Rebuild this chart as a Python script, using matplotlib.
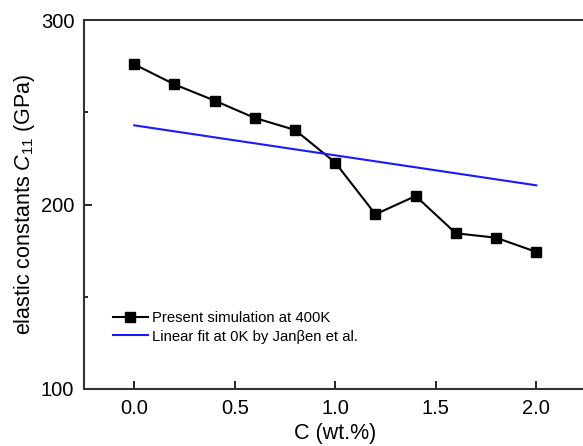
import numpy as np
import matplotlib.pyplot as plt
from matplotlib.ticker import MultipleLocator

plt.rcParams['font.family'] = ['Liberation Sans', 'DejaVu Sans']
plt.rcParams['mathtext.fontset'] = 'custom'
plt.rcParams['mathtext.it'] = 'Liberation Sans:italic'
plt.rcParams['mathtext.rm'] = 'Liberation Sans'

# C11 from the 400K simulation
conc = [0.0, 0.2, 0.4, 0.6, 0.8, 1.0, 1.2, 1.4, 1.6, 1.8, 2.0]
c11_sim = [276.0, 265.1, 256.3, 246.9, 240.4, 222.7, 194.7, 204.6, 184.4, 182.0, 174.3]

# linear fit at 0K (Janssen et al.), end points
fit_conc = [0.0, 2.0]
fit_c11 = [242.9, 210.4]

fig = plt.figure(figsize=(5.83, 4.46), dpi=100)
ax = fig.add_axes([84 / 583, 57 / 446, 502.5 / 583, 369 / 446])

ax.plot(conc, c11_sim, color='black', lw=1.5, marker='s', ms=6.5,
        label='Present simulation at 400K')
ax.plot(fit_conc, fit_c11, color='#1a1aff', lw=1.5,
        label='Linear fit at 0K by Janβen et al.')

ax.set_xlim(-0.25, 2.25)
ax.set_ylim(100, 300)
ax.xaxis.set_major_locator(MultipleLocator(0.5))
ax.yaxis.set_major_locator(MultipleLocator(100))
ax.yaxis.set_minor_locator(MultipleLocator(50))
ax.tick_params(which='both', direction='in', labelsize=14.5, width=1.2)
ax.tick_params(which='major', length=6, pad=7)
ax.tick_params(which='minor', length=3)
for s in ax.spines.values():
    s.set_linewidth(1.5)
    s.set_color('#333333')

ax.set_xlabel('C (wt.%)', fontsize=15.5, labelpad=4)
ax.set_ylabel(r'elastic constants $C_{11}$ (GPa)', fontsize=15.5, labelpad=3)

ax.legend(loc='lower left', bbox_to_anchor=(0.045, 0.107), frameon=False,
          fontsize=10.7, handlelength=2.4, handletextpad=0.25, labelspacing=0.3,
          borderaxespad=0)

fig.savefig('out.png', dpi=100)
